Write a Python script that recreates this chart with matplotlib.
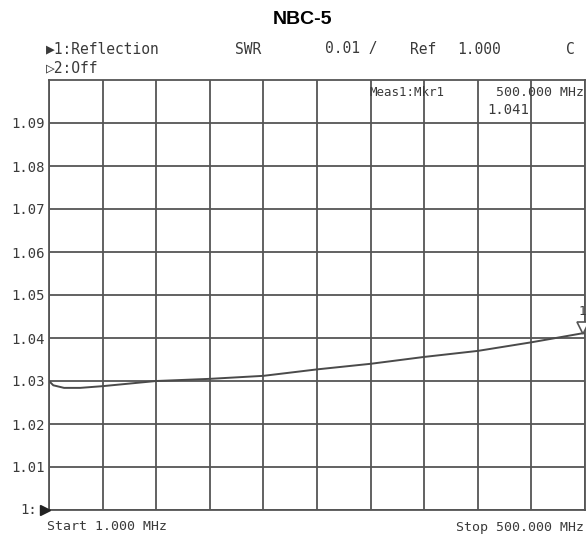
import matplotlib
matplotlib.use("Agg")
import matplotlib.pyplot as plt
import matplotlib.transforms as mtransforms

# ---- data ----
freq_mhz = [1, 5, 15, 30, 50.9, 100.8, 150.7, 200.6, 250.5, 300.4, 350.3, 400.2, 450.1, 500]
swr = [1.0300, 1.0290, 1.0284, 1.0284, 1.0288, 1.0300, 1.0305, 1.0312, 1.0327,
       1.0340, 1.0356, 1.0370, 1.0390, 1.0412]
y_ticks = [1.00, 1.01, 1.02, 1.03, 1.04, 1.05, 1.06, 1.07, 1.08, 1.09]
y_tick_labels = ["", "1.01", "1.02", "1.03", "1.04", "1.05", "1.06", "1.07", "1.08", "1.09"]
bottom_label = "1:"
marker_freq = 500
marker_swr = 1.0412
title = "NBC-5"

MONO = "DejaVu Sans Mono"
TXT = "#3a3a3a"
GRID = "#555555"

fig = plt.figure(figsize=(5.86, 5.38), dpi=100)
ax = fig.add_axes([49/586, 1-510/538, 536/586, 430/538])

x0, x1 = 1, 500
ax.set_xlim(x0, x1)
ax.set_ylim(1.00, 1.10)
step = (x1 - x0) / 10
ax.set_xticks([x0 + i*step for i in range(11)])
ax.set_xticklabels([])
ax.set_yticks(y_ticks)
ax.set_yticklabels(y_tick_labels, fontfamily=MONO, fontsize=10, color=TXT)
ax.tick_params(length=0, pad=3)
ax.grid(True, color=GRID, linewidth=1.3)
for s in ax.spines.values():
    s.set_color(GRID)
    s.set_linewidth(1.3)

ax.plot(freq_mhz, swr, color="#4a4a4a", linewidth=1.4, zorder=3)

# marker triangle above the point with tip at the trace
off = mtransforms.offset_copy(ax.transData, fig=fig, x=-2, y=5, units="dots")
ax.plot([marker_freq], [marker_swr], marker="v", markersize=9, markerfacecolor="white",
        markeredgecolor="#555555", markeredgewidth=1.2, transform=off, clip_on=False, zorder=4)
off2 = mtransforms.offset_copy(ax.transData, fig=fig, x=-3, y=15, units="dots")
ax.text(marker_freq, marker_swr, "1", transform=off2, ha="center", va="bottom",
        fontfamily=MONO, fontsize=9, color=TXT, clip_on=False)

# bottom left reference arrow
ax.plot([x0], [1.00], marker=">", markersize=7, color="#222222", clip_on=False,
        transform=mtransforms.offset_copy(ax.transData, fig=fig, x=-4, y=0, units="dots"), zorder=5)

def ftxt(px, py, s, ha="left", size=10, **kw):
    fig.text(px/586, 1-py/538, s, ha=ha, va="center", fontfamily=MONO,
             fontsize=size, color=TXT, **kw)

fig.text(303/586, 1-19/538, title, ha="center", va="center",
         fontfamily="Liberation Sans", fontweight="bold", fontsize=14, color="black")

ftxt(37, 510, bottom_label, ha="right")

ftxt(46, 49, "\u25b61:Reflection", size=10.5)
ftxt(235, 49, "SWR", size=10.5)
ftxt(325, 49, "0.01 /", size=10.5)
ftxt(410, 49, "Ref", size=10.5)
ftxt(457, 49, "1.000", size=10.5)
ftxt(566, 49, "C", size=10.5)
ftxt(46, 68, "\u25b72:Off", size=10.5)

ftxt(370, 92, "Meas1:Mkr1", size=9)
ftxt(584, 92, "500.000 MHz", ha="right", size=9.5)
ftxt(529, 110, "1.041", ha="right", size=10)

ftxt(47, 527, "Start 1.000 MHz", size=9.5)
ftxt(584, 527, "Stop 500.000 MHz", ha="right", size=9.5)

fig.savefig("out.png", dpi=100)
